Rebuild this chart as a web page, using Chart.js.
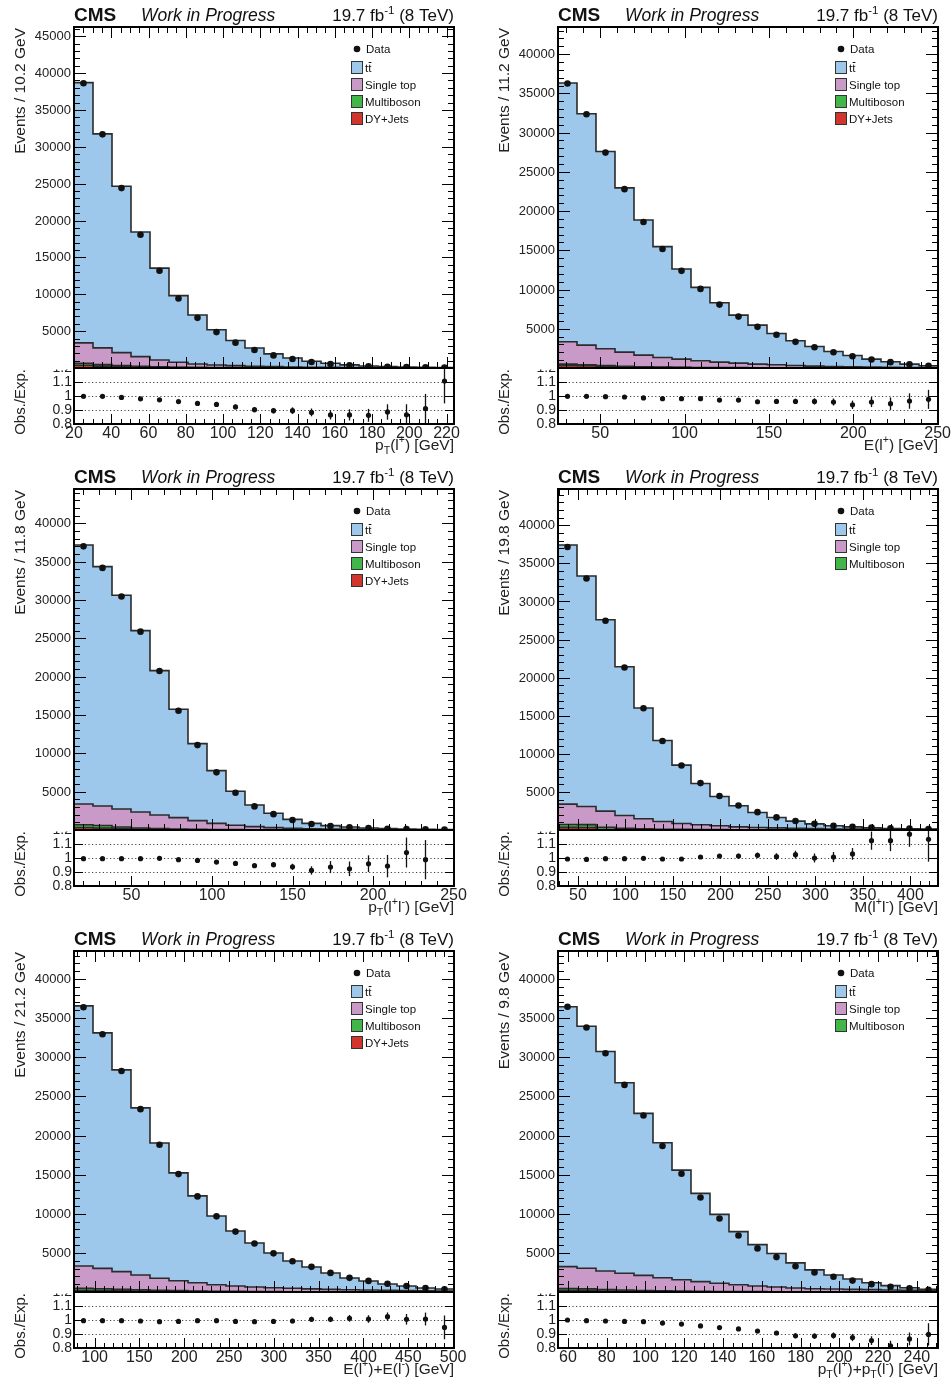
<!DOCTYPE html>
<html>
<head>
<meta charset="utf-8">
<script src="https://cdn.jsdelivr.net/npm/chart.js@4.4.1/dist/chart.umd.min.js"></script>
<style>
  html, body { margin: 0; padding: 0; background: #fff; overflow: hidden; }
  #page { position: relative; width: 951px; height: 1385px; }
  canvas { position: absolute; }
</style>
</head>
<body>
<div id="page"></div>
<script>
// pT(l+)
const ptLepTt = [35290, 29020, 22560, 16905, 12460, 9050, 6635, 4770, 3410, 2490, 1730, 1220, 810, 550, 350, 225, 145, 95, 60, 35];
const ptLepSingleTop = [2760, 2270, 1770, 1315, 930, 660, 465, 350, 275, 195, 152, 118, 92, 75, 58, 45, 37, 29, 25, 21];
const ptLepMultiboson = [270, 210, 170, 130, 90, 60, 45, 35, 25, 20, 16, 12, 10, 9, 7, 6, 5, 3, 3, 2];
const ptLepDY = [380, 250, 150, 100, 70, 50, 35, 25, 20, 15, 12, 10, 8, 6, 5, 4, 3, 3, 2, 2];
const ptLepData = [38620, 31690, 24400, 18080, 13180, 9430, 6800, 4870, 3440, 2450, 1710, 1220, 810, 550, 365, 240, 170, 113, 82, 66];
const ptLepRatio = [0.998, 0.998, 0.990, 0.980, 0.973, 0.960, 0.947, 0.940, 0.922, 0.902, 0.895, 0.895, 0.883, 0.865, 0.865, 0.862, 0.886, 0.866, 0.910, 1.107];
const ptLepRatioErr = [0.005, 0.006, 0.006, 0.007, 0.009, 0.010, 0.012, 0.014, 0.016, 0.018, 0.020, 0.024, 0.028, 0.033, 0.040, 0.046, 0.055, 0.075, 0.105, 0.16];

// E(l+)
const eLepTt = [32980, 29485, 25140, 20935, 17230, 14130, 11490, 9360, 7575, 6130, 4980, 4000, 3150, 2510, 1915, 1445, 1020, 705, 425, 230];
const eLepSingleTop = [2840, 2495, 2140, 1800, 1480, 1225, 1040, 845, 692, 573, 457, 378, 298, 217, 176, 138, 100, 77, 58, 45];
const eLepMultiboson = [170, 140, 110, 90, 70, 55, 45, 35, 28, 22, 18, 15, 12, 10, 8, 7, 6, 5, 4, 3];
const eLepDY = [330, 280, 200, 130, 90, 60, 45, 35, 25, 20, 15, 12, 10, 8, 6, 5, 4, 3, 3, 2];
const eLepData = [36250, 32335, 27450, 22795, 18605, 15175, 12380, 10080, 8080, 6550, 5245, 4235, 3335, 2640, 2015, 1495, 1080, 745, 470, 275];
const eLepRatio = [0.998, 0.998, 0.995, 0.993, 0.986, 0.981, 0.981, 0.981, 0.971, 0.971, 0.959, 0.961, 0.961, 0.961, 0.957, 0.937, 0.957, 0.945, 0.964, 0.976];
const eLepRatioErr = [0.005, 0.005, 0.006, 0.007, 0.008, 0.009, 0.010, 0.011, 0.012, 0.013, 0.015, 0.017, 0.019, 0.022, 0.025, 0.030, 0.036, 0.045, 0.055, 0.068];

// pT(l+l-)
const ptLLTt = [33785, 31220, 27870, 23650, 18825, 14130, 10040, 6870, 4435, 2825, 1870, 1170, 710, 445, 300, 195, 125, 90, 60, 33];
const ptLLSingleTop = [2710, 2540, 2340, 2090, 1775, 1480, 1125, 805, 563, 398, 277, 198, 144, 107, 80, 57, 43, 35, 26, 19];
const ptLLMultiboson = [350, 330, 250, 170, 120, 90, 65, 45, 32, 25, 18, 14, 10, 8, 6, 5, 4, 3, 2, 2];
const ptLLDY = [330, 260, 150, 90, 60, 40, 30, 20, 15, 12, 10, 8, 6, 5, 4, 3, 3, 2, 2, 1];
const ptLLData = [36990, 34180, 30455, 25870, 20740, 15550, 11070, 7515, 4850, 3080, 2070, 1300, 790, 530, 360, 250, 165, 135, 89, 70];
const ptLLRatio = [0.995, 0.995, 0.995, 0.995, 0.998, 0.988, 0.983, 0.971, 0.961, 0.945, 0.952, 0.937, 0.911, 0.935, 0.923, 0.959, 0.942, 1.039, 0.988, null];
const ptLLRatioErr = [0.005, 0.005, 0.006, 0.006, 0.007, 0.008, 0.009, 0.011, 0.013, 0.015, 0.018, 0.022, 0.030, 0.043, 0.052, 0.060, 0.080, 0.107, 0.14, 0];

// M(l+l-)
const mLLTt = [34025, 30260, 25135, 19535, 14540, 10645, 7665, 5430, 3850, 2760, 1970, 1355, 940, 635, 420, 305, 195, 130, 95, 65];
const mLLSingleTop = [2675, 2380, 2115, 1695, 1320, 1010, 775, 617, 502, 377, 299, 260, 200, 159, 117, 100, 82, 63, 49, 40];
const mLLMultiboson = [370, 380, 300, 180, 130, 90, 70, 55, 42, 33, 27, 22, 17, 14, 11, 9, 7, 6, 5, 4];
const mLLDY = [350, 330, 60, 30, 20, 15, 10, 8, 6, 5, 4, 3, 3, 2, 2, 1, 1, 1, 1, 1];
const mLLData = [37160, 33015, 27470, 21330, 15980, 11680, 8460, 6155, 4460, 3220, 2345, 1655, 1190, 810, 555, 425, 320, 225, 175, 125];
const mLLRatio = [0.993, 0.990, 0.995, 0.995, 0.998, 0.993, 0.993, 1.007, 1.014, 1.014, 1.019, 1.010, 1.024, 1.000, 1.007, 1.029, 1.124, 1.124, 1.170, 1.134];
const mLLRatioErr = [0.005, 0.005, 0.006, 0.007, 0.008, 0.009, 0.011, 0.012, 0.014, 0.017, 0.020, 0.024, 0.028, 0.032, 0.036, 0.042, 0.065, 0.075, 0.09, 0.16];

// E(l+)+E(l-)
const eSumTt = [33250, 30095, 25790, 21360, 17300, 13775, 11090, 8785, 7030, 5630, 4440, 3490, 2800, 2090, 1500, 1160, 810, 600, 370, 270];
const eSumSingleTop = [2860, 2605, 2250, 1890, 1530, 1275, 1060, 830, 690, 575, 498, 429, 367, 313, 268, 233, 196, 159, 131, 103];
const eSumMultiboson = [260, 240, 200, 160, 130, 100, 80, 65, 50, 40, 32, 26, 21, 17, 14, 11, 9, 7, 6, 5];
const eSumDY = [200, 180, 150, 120, 90, 70, 50, 40, 30, 25, 20, 15, 12, 10, 8, 6, 5, 4, 3, 2];
const eSumData = [36390, 32950, 28250, 23370, 18820, 15070, 12220, 9670, 7720, 6195, 4940, 3930, 3215, 2440, 1810, 1420, 1045, 775, 515, 360];
const eSumRatio = [0.995, 0.995, 0.995, 0.993, 0.988, 0.990, 0.995, 0.995, 0.990, 0.988, 0.990, 0.993, 1.005, 1.005, 1.012, 1.007, 1.024, 1.005, 1.007, 0.947];
const eSumRatioErr = [0.005, 0.005, 0.006, 0.006, 0.007, 0.008, 0.009, 0.010, 0.011, 0.012, 0.014, 0.016, 0.018, 0.020, 0.024, 0.027, 0.030, 0.038, 0.046, 0.085];

// pT(l+)+pT(l-)
const ptSumTt = [33210, 30940, 28040, 24350, 20700, 17240, 14000, 11280, 8810, 6790, 5280, 4280, 3210, 2410, 1800, 1320, 880, 570, 330, 160];
const ptSumSingleTop = [2810, 2630, 2370, 2140, 1940, 1685, 1455, 1230, 1040, 875, 726, 604, 481, 397, 361, 325, 288, 241, 202, 164];
const ptSumMultiboson = [230, 220, 190, 160, 130, 100, 80, 65, 50, 40, 32, 26, 21, 17, 14, 11, 9, 7, 6, 5];
const ptSumDY = [200, 180, 130, 90, 60, 45, 35, 25, 20, 15, 12, 10, 8, 6, 5, 4, 3, 2, 2, 1];
const ptSumData = [36450, 33800, 30515, 26470, 22555, 18650, 15120, 12070, 9385, 7225, 5570, 4460, 3300, 2505, 1940, 1455, 1005, 670, 467, 296];
const ptSumRatio = [1.000, 0.995, 0.993, 0.990, 0.988, 0.978, 0.971, 0.958, 0.946, 0.936, 0.921, 0.907, 0.887, 0.885, 0.889, 0.875, 0.853, 0.816, 0.865, 0.897];
const ptSumRatioErr = [0.005, 0.005, 0.006, 0.006, 0.007, 0.008, 0.008, 0.009, 0.010, 0.012, 0.013, 0.015, 0.017, 0.019, 0.022, 0.026, 0.031, 0.036, 0.046, 0.08];

const ratioTicks = [0.8, 0.9, 1.0, 1.1, 1.2];
const ratioTickLabels = ["0.8", "0.9", "1", "1.1", "1.2"];

const FONT = '"Liberation Sans", Arial, Helvetica, sans-serif';
const COLORS = { tt: "#9dc8eb", st: "#c999c8", mb: "#43b649", dy: "#d2352b", line: "#2b2b2b" };

const panels = [
    { xMin: 20, xMax: 224, yMax: 46250, xMajor: 20, xMinor: 5, yTitle: "Events / 10.2 GeV",
      xTitle: [["p", ""], ["T", "sub"], ["(l", ""], ["+", "sup"], [") [GeV]", ""]],
      tt: ptLepTt, st: ptLepSingleTop, mb: ptLepMultiboson, dy: ptLepDY,
      data: ptLepData, ratio: ptLepRatio, ratioErr: ptLepRatioErr, dyInLegend: true },
    { xMin: 25, xMax: 250.2, yMax: 43460, xMajor: 50, xMinor: 10, yTitle: "Events / 11.2 GeV",
      xTitle: [["E(l", ""], ["+", "sup"], [") [GeV]", ""]],
      tt: eLepTt, st: eLepSingleTop, mb: eLepMultiboson, dy: eLepDY,
      data: eLepData, ratio: eLepRatio, ratioErr: eLepRatioErr, dyInLegend: true },
    { xMin: 14.3, xMax: 250.3, yMax: 44470, xMajor: 50, xMinor: 10, yTitle: "Events / 11.8 GeV",
      xTitle: [["p", ""], ["T", "sub"], ["(l", ""], ["+", "sup"], ["l", ""], ["-", "sup"], [") [GeV]", ""]],
      tt: ptLLTt, st: ptLLSingleTop, mb: ptLLMultiboson, dy: ptLLDY,
      data: ptLLData, ratio: ptLLRatio, ratioErr: ptLLRatioErr, dyInLegend: true },
    { xMin: 29, xMax: 429, yMax: 44770, xMajor: 50, xMinor: 10, yTitle: "Events / 19.8 GeV",
      xTitle: [["M(l", ""], ["+", "sup"], ["l", ""], ["-", "sup"], [") [GeV]", ""]],
      tt: mLLTt, st: mLLSingleTop, mb: mLLMultiboson, dy: mLLDY,
      data: mLLData, ratio: mLLRatio, ratioErr: mLLRatioErr, dyInLegend: false },
    { xMin: 77, xMax: 501, yMax: 43580, xMajor: 50, xMinor: 10, yTitle: "Events / 21.2 GeV",
      xTitle: [["E(l", ""], ["+", "sup"], [")+E(l", ""], ["-", "sup"], [") [GeV]", ""]],
      tt: eSumTt, st: eSumSingleTop, mb: eSumMultiboson, dy: eSumDY,
      data: eSumData, ratio: eSumRatio, ratioErr: eSumRatioErr, dyInLegend: true },
    { xMin: 54.9, xMax: 250.9, yMax: 43580, xMajor: 20, xMinor: 5, yTitle: "Events / 9.8 GeV",
      xTitle: [["p", ""], ["T", "sub"], ["(l", ""], ["+", "sup"], [")+p", ""], ["T", "sub"], ["(l", ""], ["-", "sup"], [") [GeV]", ""]],
      tt: ptSumTt, st: ptSumSingleTop, mb: ptSumMultiboson, dy: ptSumDY,
      data: ptSumData, ratio: ptSumRatio, ratioErr: ptSumRatioErr, dyInLegend: false }
];

// text with sub/superscript pieces, e.g. p_T(l^+)
function drawRich(ctx, parts, x, y, size, align, style) {
    const fontFor = (m) => `${style || ""} ${m ? size * 0.68 : size}px ${FONT}`;
    let total = 0;
    parts.forEach(([t, m]) => { ctx.font = fontFor(m); total += ctx.measureText(t).width; });
    let cx = align === "right" ? x - total : (align === "center" ? x - total / 2 : x);
    ctx.textAlign = "left";
    parts.forEach(([t, m]) => {
        ctx.font = fontFor(m);
        const dy = m === "sub" ? size * 0.3 : (m === "sup" ? -size * 0.42 : 0);
        ctx.fillText(t, cx, y + dy);
        cx += ctx.measureText(t).width;
    });
}

function stepPoints(values, xMin, xMax) {
    const w = (xMax - xMin) / values.length;
    const pts = values.map((v, i) => ({ x: xMin + i * w, y: v }));
    pts.push({ x: xMax, y: values[values.length - 1] });
    return pts;
}

function tickValues(min, max, step) {
    const out = [];
    for (let k = Math.ceil(min / step - 1e-9); k * step <= max + 1e-9; k++) out.push(k * step);
    return out;
}

function makePadPlugin(p, centers) {
    return {
        id: "padFrame",
        beforeDatasetsDraw(chart) {
            const { ctx } = chart;
            const { x, yRatio } = chart.scales;
            // dotted reference lines in the ratio pad
            ctx.save();
            ctx.strokeStyle = "#444";
            ctx.lineWidth = 1;
            ctx.setLineDash([1.2, 2.4]);
            [0.9, 1.0, 1.1].forEach(v => {
                const py = Math.round(yRatio.getPixelForValue(v)) + 0.5;
                ctx.beginPath();
                ctx.moveTo(x.left, py);
                ctx.lineTo(x.right, py);
                ctx.stroke();
            });
            ctx.restore();
        },
        afterDatasetsDraw(chart) {
            const { ctx } = chart;
            const { x, y, yRatio } = chart.scales;
            ctx.save();
            ctx.strokeStyle = "#111";
            ctx.lineWidth = 1.3;
            // statistical error bars on data, main pad
            ctx.beginPath();
            ctx.rect(x.left, y.top, x.right - x.left, y.bottom - y.top);
            ctx.clip();
            centers.forEach((c, i) => {
                const rat = p.ratio[i];
                if (rat == null) return;
                const e = p.data[i] * p.ratioErr[i] / rat;
                const px = x.getPixelForValue(c);
                ctx.beginPath();
                ctx.moveTo(px, y.getPixelForValue(p.data[i] - e));
                ctx.lineTo(px, y.getPixelForValue(p.data[i] + e));
                ctx.stroke();
            });
            ctx.restore();
            // ratio pad error bars
            ctx.save();
            ctx.strokeStyle = "#111";
            ctx.lineWidth = 1.3;
            ctx.beginPath();
            ctx.rect(x.left, yRatio.top, x.right - x.left, yRatio.bottom - yRatio.top);
            ctx.clip();
            centers.forEach((c, i) => {
                const rat = p.ratio[i];
                if (rat == null) return;
                const px = x.getPixelForValue(c);
                ctx.beginPath();
                ctx.moveTo(px, yRatio.getPixelForValue(rat - p.ratioErr[i]));
                ctx.lineTo(px, yRatio.getPixelForValue(rat + p.ratioErr[i]));
                ctx.stroke();
            });
            ctx.restore();
        },
        afterDraw(chart) {
            const { ctx } = chart;
            const { x, y, yRatio } = chart.scales;
            const L = x.left, R = x.right, T = y.top, M = y.bottom, B = yRatio.bottom;
            ctx.save();
            ctx.fillStyle = "#000";
            ctx.strokeStyle = "#000";

            // frames
            ctx.lineWidth = 2;
            ctx.strokeRect(L, T, R - L, M - T);
            ctx.strokeRect(L, M, R - L, B - M);

            // ticks
            ctx.lineWidth = 1;
            ctx.beginPath();
            tickValues(0, p.yMax, 1000).forEach(v => {
                const py = Math.round(y.getPixelForValue(v)) + 0.5;
                const len = v % 5000 === 0 ? 12 : 6;
                ctx.moveTo(L, py); ctx.lineTo(L + len, py);
                ctx.moveTo(R, py); ctx.lineTo(R - len, py);
            });
            tickValues(p.xMin, p.xMax, p.xMinor).forEach(v => {
                const px = Math.round(x.getPixelForValue(v)) + 0.5;
                const major = Math.abs(v / p.xMajor - Math.round(v / p.xMajor)) < 1e-6;
                const len = major ? 11 : 6;
                ctx.moveTo(px, T); ctx.lineTo(px, T + len);
                ctx.moveTo(px, M); ctx.lineTo(px, M - len);
                ctx.moveTo(px, B); ctx.lineTo(px, B - (major ? 10 : 5));
            });
            ratioTicks.forEach(v => {
                const py = Math.round(yRatio.getPixelForValue(v)) + 0.5;
                ctx.moveTo(L, py); ctx.lineTo(L + 9, py);
                ctx.moveTo(R, py); ctx.lineTo(R - 9, py);
            });
            ctx.stroke();

            // main y labels
            ctx.fillStyle = "#222";
            ctx.font = `13px ${FONT}`;
            ctx.textAlign = "right";
            ctx.textBaseline = "middle";
            tickValues(5000, p.yMax, 5000).forEach(v => {
                ctx.fillText(String(v), L - 3, y.getPixelForValue(v) + 0.5);
            });

            // ratio y labels, the top one hidden behind the upper pad
            ctx.save();
            ctx.beginPath();
            ctx.rect(0, M + 1.5, L, chart.height);
            ctx.clip();
            ctx.font = `14px ${FONT}`;
            ratioTicks.forEach((v, k) => {
                ctx.fillText(ratioTickLabels[k], L - 2, yRatio.getPixelForValue(v) + 0.5);
            });
            ctx.restore();

            // x labels
            ctx.font = `16px ${FONT}`;
            ctx.textAlign = "center";
            ctx.textBaseline = "alphabetic";
            tickValues(p.xMin, p.xMax, p.xMajor).forEach(v => {
                ctx.fillText(String(v), x.getPixelForValue(v), B + 13.5);
            });

            // axis titles
            drawRich(ctx, p.xTitle, R, B + 25.5, 15.5, "right");
            ctx.save();
            ctx.translate(25, T + 1);
            ctx.rotate(-Math.PI / 2);
            ctx.font = `15.5px ${FONT}`;
            ctx.textAlign = "right";
            ctx.fillText(p.yTitle, 0, 0);
            ctx.restore();
            ctx.save();
            ctx.translate(25, M + 1);
            ctx.rotate(-Math.PI / 2);
            ctx.font = `15px ${FONT}`;
            ctx.textAlign = "right";
            ctx.fillText("Obs./Exp.", 0, 0);
            ctx.restore();

            // header
            ctx.fillStyle = "#111";
            ctx.textAlign = "left";
            ctx.font = `bold 19px ${FONT}`;
            ctx.fillText("CMS", L, 21);
            ctx.font = `italic 17.5px ${FONT}`;
            ctx.fillText("Work in Progress", L + 67, 21);
            drawRich(ctx, [["19.7 fb", ""], ["-1", "sup"], [" (8 TeV)", ""]], R, 21, 17, "right");

            // legend
            const lx = L + 277;
            ctx.font = `11.5px ${FONT}`;
            ctx.beginPath();
            ctx.arc(L + 283, 49, 3.3, 0, Math.PI * 2);
            ctx.fill();
            ctx.textBaseline = "middle";
            ctx.fillText("Data", L + 292, 49.5);
            ctx.textBaseline = "alphabetic";
            const entries = [["tt", COLORS.tt], ["Single top", COLORS.st], ["Multiboson", COLORS.mb]];
            if (p.dyInLegend) entries.push(["DY+Jets", COLORS.dy]);
            entries.forEach(([label, color], k) => {
                const top = 61 + k * 17;
                ctx.fillStyle = color;
                ctx.fillRect(lx, top, 11.5, 12.5);
                ctx.strokeStyle = "#333";
                ctx.lineWidth = 1;
                ctx.strokeRect(lx + 0.5, top + 0.5, 11, 12);
                ctx.fillStyle = "#111";
                ctx.fillText(label, L + 291, top + 11);
                if (label === "tt") {
                    // bar over the second t
                    const tw = ctx.measureText("t").width;
                    ctx.fillRect(L + 291 + tw + 0.5, top + 1, tw - 0.5, 1);
                }
            });
            ctx.restore();
        }
    };
}

const page = document.getElementById("page");

panels.forEach((p, k) => {
    const canvas = document.createElement("canvas");
    canvas.width = 467;
    canvas.height = 461;
    canvas.style.left = (k % 2) * 484 + "px";
    canvas.style.top = Math.floor(k / 2) * 462 + "px";
    canvas.style.width = "467px";
    canvas.style.height = "461px";
    page.appendChild(canvas);

    // stack the backgrounds: DY at the bottom, ttbar on top
    const dyTop = p.dy;
    const mbTop = p.mb.map((v, i) => v + dyTop[i]);
    const stTop = p.st.map((v, i) => v + mbTop[i]);
    const ttTop = p.tt.map((v, i) => v + stTop[i]);
    const binW = (p.xMax - p.xMin) / p.tt.length;
    const centers = p.tt.map((_, i) => p.xMin + (i + 0.5) * binW);

    const layer = (values, color, order) => ({
        type: "line",
        data: stepPoints(values, p.xMin, p.xMax),
        stepped: true,
        fill: "origin",
        backgroundColor: color,
        borderColor: COLORS.line,
        borderWidth: 1.6,
        pointRadius: 0,
        yAxisID: "y",
        order
    });

    new Chart(canvas, {
        type: "line",
        data: {
            datasets: [
                {
                    type: "scatter",
                    data: centers.map((c, i) => ({ x: c, y: p.data[i] })),
                    pointRadius: 3.3,
                    backgroundColor: "#111",
                    borderWidth: 0,
                    yAxisID: "y",
                    order: 0
                },
                {
                    type: "scatter",
                    data: centers.map((c, i) => (p.ratio[i] == null ? null : { x: c, y: p.ratio[i] })).filter(Boolean),
                    pointRadius: 2.6,
                    backgroundColor: "#111",
                    borderWidth: 0,
                    yAxisID: "yRatio",
                    order: 0
                },
                layer(dyTop, COLORS.dy, 1),
                layer(mbTop, COLORS.mb, 2),
                layer(stTop, COLORS.st, 3),
                layer(ttTop, COLORS.tt, 4)
            ]
        },
        options: {
            responsive: false,
            animation: false,
            events: [],
            layout: { padding: { left: 74, right: 13, top: 27, bottom: 37 } },
            plugins: { legend: { display: false }, tooltip: { enabled: false } },
            scales: {
                // ratio pad listed first so the stack puts it under the main pad
                yRatio: { type: "linear", min: 0.8, max: 1.2, display: false, position: "left", stack: "pad", stackWeight: 56 },
                x: { type: "linear", min: p.xMin, max: p.xMax, display: false },
                y: { type: "linear", min: 0, max: p.yMax, display: false, position: "left", stack: "pad", stackWeight: 341 }
            }
        },
        plugins: [makePadPlugin(p, centers)]
    });
});
</script>
</body>
</html>
